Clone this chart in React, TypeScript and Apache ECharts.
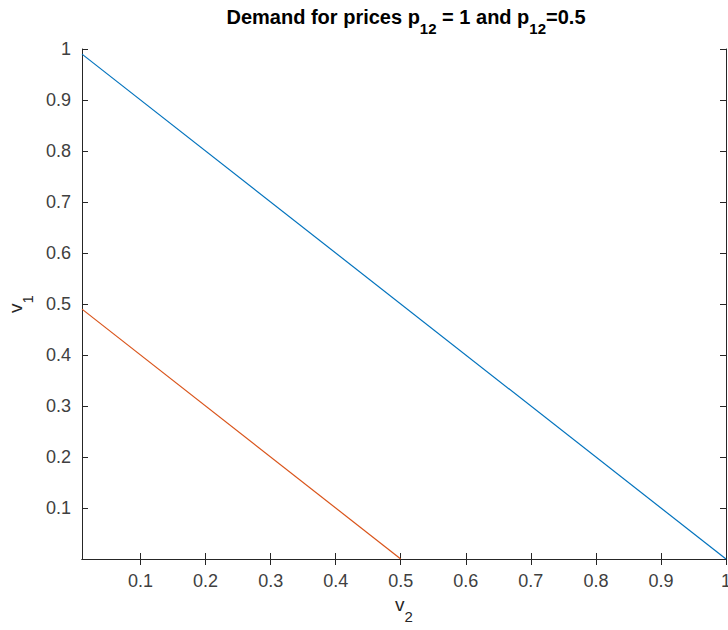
import React, { useEffect, useRef } from "react";
import * as echarts from "echarts";

const blueV2 = [0.01, 1];
const blueV1 = [0.99, 0];
const orangeV2 = [0.01, 0.5];
const orangeV1 = [0.49, 0];
const xTicks = [0.1, 0.2, 0.3, 0.4, 0.5, 0.6, 0.7, 0.8, 0.9, 1];
const yTicks = [0.1, 0.2, 0.3, 0.4, 0.5, 0.6, 0.7, 0.8, 0.9, 1];

const AX = "#262626";
const FONT = "'Liberation Sans', Arial, Helvetica, sans-serif";

export default function App() {
  const ref = useRef<HTMLDivElement>(null);
  useEffect(() => {
    if (!ref.current) return;
    const chart = echarts.init(ref.current, null, { renderer: "svg" });
    const fmt = (v: number) => {
      const r = Math.round(v * 10) / 10;
      return r === 1 ? "1" : String(r);
    };
    const baseAxis = (extra: any) => ({
      type: "value",
      splitLine: { show: false },
      axisLine: { show: true, lineStyle: { color: AX, width: 1 } },
      ...extra,
    });
    const labelStyle = { color: "#404040", fontSize: 18, fontFamily: FONT };
    const nameRich = {
      m: { fontSize: 19, fontFamily: FONT, color: AX, verticalAlign: "bottom", lineHeight: 19, padding: [0, 0, 10, 0] },
      s: { fontSize: 15, fontFamily: FONT, color: AX, verticalAlign: "bottom", lineHeight: 16 },
    };
    chart.setOption({
      animation: false,
      backgroundColor: "#ffffff",
      title: {
        text: "{m|Demand for prices p}{s|12}{m| = 1 and p}{s|12}{m|=0.5}",
        left: 406,
        top: 12,
        padding: 0,
        textAlign: "center",
        textStyle: {
          rich: {
            m: { fontSize: 20, fontWeight: "bold", fontFamily: FONT, color: "#000", verticalAlign: "bottom", lineHeight: 24, padding: [0, 0, 9, 0] },
            s: { fontSize: 15, fontWeight: "bold", fontFamily: FONT, color: "#000", verticalAlign: "bottom", lineHeight: 18 },
          },
        },
      },
      grid: { left: 82, right: 2, top: 49, bottom: 71, outerBoundsMode: "none", containLabel: false },
      xAxis: [
        baseAxis({
          position: "bottom",
          min: 0.01,
          max: 1,
          name: "{m|v}{s|2}",
          nameLocation: "middle",
          nameGap: 41,
          nameTextStyle: { rich: nameRich },
          axisTick: { show: true, inside: true, length: 6, customValues: xTicks, lineStyle: { color: AX } },
          axisLabel: { ...labelStyle, margin: 13, customValues: xTicks, formatter: fmt, showMinLabel: true, showMaxLabel: true },
        }),
        baseAxis({
          position: "top",
          min: 0.01,
          max: 1,
          axisTick: { show: true, inside: true, length: 6, customValues: xTicks, lineStyle: { color: AX } },
          axisLabel: { show: false },
        }),
      ],
      yAxis: [
        baseAxis({
          position: "left",
          min: 0,
          max: 1,
          name: "{m|v}{s|1}",
          nameLocation: "middle",
          nameRotate: 90,
          nameGap: 47,
          nameTextStyle: { rich: nameRich },
          axisTick: { show: true, inside: true, length: 6, customValues: yTicks, lineStyle: { color: AX } },
          axisLabel: { ...labelStyle, margin: 11, customValues: yTicks, formatter: fmt, showMinLabel: true, showMaxLabel: true },
        }),
        baseAxis({
          position: "right",
          min: 0,
          max: 1,
          axisTick: { show: true, inside: true, length: 6, customValues: yTicks, lineStyle: { color: AX } },
          axisLabel: { show: false },
        }),
      ],
      series: [
        {
          type: "line",
          data: blueV2.map((x, i) => [x, blueV1[i]]),
          showSymbol: false,
          symbol: "none",
          lineStyle: { color: "#0072BD", width: 1.2 },
          itemStyle: { color: "#0072BD" },
        },
        {
          type: "line",
          data: orangeV2.map((x, i) => [x, orangeV1[i]]),
          showSymbol: false,
          symbol: "none",
          lineStyle: { color: "#D95319", width: 1.2 },
          itemStyle: { color: "#D95319" },
        },
      ],
    });
    return () => chart.dispose();
  }, []);
  return (
    <div
      ref={ref}
      style={{ position: "absolute", left: 0, top: 0, width: 728, height: 630, background: "#fff" }}
    />
  );
}
